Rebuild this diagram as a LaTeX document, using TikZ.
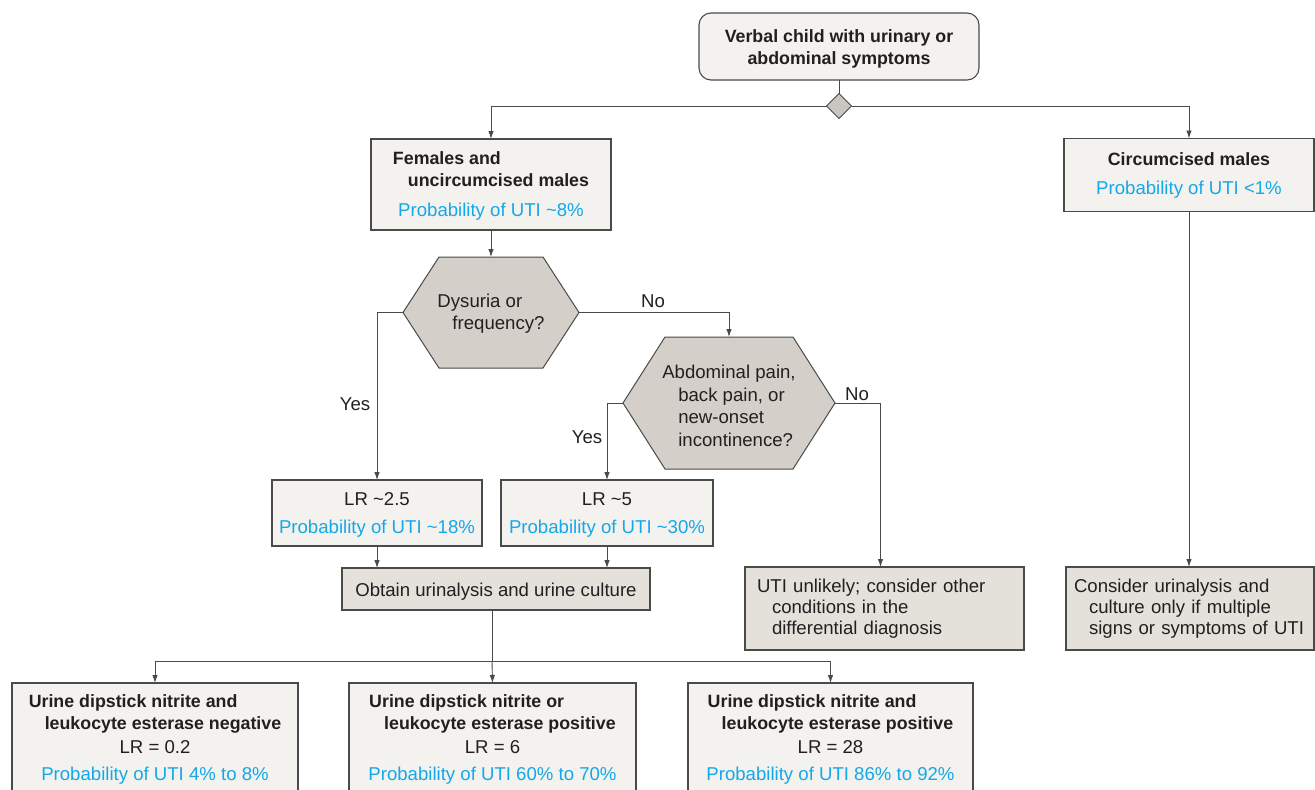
\documentclass[tikz,border=0pt]{standalone}
\usepackage{fontspec}
\setmainfont{Liberation Sans}
\usetikzlibrary{arrows.meta,shapes.geometric,backgrounds}
\definecolor{boxfill}{HTML}{F3F2EE}
\definecolor{darkfill}{HTML}{E4E0DA}
\definecolor{hexfill}{HTML}{D4D0C9}
\definecolor{dfill}{HTML}{C8C6C0}
\definecolor{edge}{HTML}{4A4A4A}
\definecolor{uti}{HTML}{14A8E9}
\definecolor{ink}{HTML}{231F20}
\newcommand\myfs{\fontsize{18.6}{22}\selectfont}
\newcommand\myhd{\fontsize{17.8}{22}\selectfont\bfseries}
\newcommand\myblu{\color{uti}}
\newcommand\mydown[2]{\raisebox{-#1}[\height][\depth]{#2}}
\tikzset{
  every node/.style={outer sep=0pt, text=ink, font=\myfs},
  lightbox/.style={draw=edge, line width=1.1pt, fill=boxfill, rectangle, align=center, inner sep=0pt},
  darkbox/.style={lightbox, fill=darkfill},
  hexnode/.style={rectangle, inner sep=0pt, align=center},
  hexshape/.style={draw=edge, line width=1pt, fill=hexfill},
  arr/.style={draw=edge, line width=0.9pt, -{Latex[length=8pt,width=5.5pt]}},
  con/.style={draw=edge, line width=0.9pt},
  lbl/.style={inner sep=0pt},
  txt/.style={inner sep=0pt, align=center},
}
\begin{document}
\begin{tikzpicture}[x=1pt,y=-1pt]
\useasboundingbox (0,0) rectangle (1315,790);
\clip (0,0) rectangle (1315,790);

% top
\node[lightbox, rounded corners=12pt, minimum width=280pt, minimum height=67pt, font=\myhd] (top) at (839,46.5)
  {\mydown{2.5pt}{\begin{tabular}{@{}c@{}}Verbal child with urinary or\\abdominal symptoms\end{tabular}}};
\node[shape=diamond, draw=edge, line width=0.9pt, fill=dfill, minimum width=25pt, minimum height=25pt, inner sep=0pt] (dia) at (839,106) {};

% second row
\node[lightbox, minimum width=240pt, minimum height=91pt] (fem) at (491,184.5)
  {\begin{tabular}[b]{@{}l@{}}\myhd Females and\\\hspace*{15pt}\myhd uncircumcised males\end{tabular}\\[8.5pt]{\myblu Probability of UTI \textasciitilde8\%}};
\node[lightbox, minimum width=250pt, minimum height=73pt] (circ) at (1189,175)
  {{\myhd Circumcised males}\\[7pt]{\myblu Probability of UTI \textless1\%}};

% hexagons
\node[hexnode, minimum width=176pt, minimum height=111pt] (dys) at (491,312.5)
  {\mydown{1.5pt}{\begin{tabular}{@{}l@{}}Dysuria or\\\hspace*{15pt}frequency?\end{tabular}}};
\node[hexnode, minimum width=212pt, minimum height=132pt] (abd) at (729,403)
  {\mydown{5pt}{\begin{tabular}{@{}l@{}}Abdominal pain,\\[0.8pt]\hspace*{16pt}back pain, or\\[0.8pt]\hspace*{16pt}new-onset\\[0.8pt]\hspace*{16pt}incontinence?\end{tabular}}};
\begin{scope}[on background layer]
\path[hexshape] (dys.west) -- ([xshift=36pt]dys.north west) -- ([xshift=-36pt]dys.north east) -- (dys.east)
  -- ([xshift=-36pt]dys.south east) -- ([xshift=36pt]dys.south west) -- cycle;
\path[hexshape] (abd.west) -- ([xshift=42pt]abd.north west) -- ([xshift=-42pt]abd.north east) -- (abd.east)
  -- ([xshift=-42pt]abd.south east) -- ([xshift=42pt]abd.south west) -- cycle;
\end{scope}

% LR boxes
\node[lightbox, minimum width=210pt, minimum height=66pt] (lr1) at (377,513)
  {\mydown{2pt}{\begin{tabular}{@{}c@{}}LR \textasciitilde2.5\\[6pt]{\myblu Probability of UTI \textasciitilde18\%}\end{tabular}}};
\node[lightbox, minimum width=212pt, minimum height=66pt] (lr2) at (607,513)
  {\mydown{2pt}{\begin{tabular}{@{}c@{}}LR \textasciitilde5\\[6pt]{\myblu Probability of UTI \textasciitilde30\%}\end{tabular}}};
\node[darkbox, minimum width=308pt, minimum height=42pt] (obt) at (496,589)
  {\mydown{2.5pt}{Obtain urinalysis and urine culture}};
\node[darkbox, align=left, text width=255pt, inner xsep=12pt, minimum height=83pt] (unl) at (884.5,608.5)
  {UTI unlikely; consider other\\[-1pt]\hspace*{15pt}conditions in the\\[-1pt]\hspace*{15pt}differential diagnosis};
\node[darkbox, align=left, text width=232pt, inner xsep=8pt, minimum height=83pt] (cons) at (1190,608.5)
  {Consider urinalysis and\\[-1pt]\hspace*{15pt}culture only if multiple\\[-1pt]\hspace*{15pt}signs or symptoms of UTI};

% bottom boxes
\node[lightbox, minimum width=286pt, minimum height=130pt, anchor=north] (b1) at (155,683) {};
\node[lightbox, minimum width=287pt, minimum height=130pt, anchor=north] (b2) at (492.5,683) {};
\node[lightbox, minimum width=285pt, minimum height=130pt, anchor=north] (b3) at (830.5,683) {};
\node[txt, anchor=north] (b1t) at ([yshift=-8.6pt]b1.north)
  {\begin{tabular}[b]{@{}l@{}}\myhd Urine dipstick nitrite and\\\hspace*{16pt}\myhd leukocyte esterase negative\end{tabular}\\[2pt]LR = 0.2\\[5pt]{\myblu Probability of UTI 4\% to 8\%}};
\node[txt, anchor=north] (b2t) at ([yshift=-8.6pt]b2.north)
  {\begin{tabular}[b]{@{}l@{}}\myhd Urine dipstick nitrite or\\\hspace*{15pt}\myhd leukocyte esterase positive\end{tabular}\\[2pt]LR = 6\\[5pt]{\myblu Probability of UTI 60\% to 70\%}};
\node[txt, anchor=north] (b3t) at ([yshift=-8.6pt]b3.north)
  {\begin{tabular}[b]{@{}l@{}}\myhd Urine dipstick nitrite and\\\hspace*{14pt}\myhd leukocyte esterase positive\end{tabular}\\[2pt]LR = 28\\[5pt]{\myblu Probability of UTI 86\% to 92\%}};

% labels
\node[lbl] (yes1) at (355,404) {Yes};
\node[lbl] (no1) at (653,301) {No};
\node[lbl] (yes2) at (587,437) {Yes};
\node[lbl] (no2) at (857,394) {No};

% connectors
\draw[con] (top.south) -- (dia.north);
\draw[arr] (dia.west) -| (fem.north);
\draw[arr] (dia.east) -| (circ.north);
\draw[arr] (fem.south) -- (dys.north);
\draw[arr] (dys.west) -| (lr1.north);
\draw[arr] (dys.east) -| (abd.north);
\draw[arr] (abd.west) -| (lr2.north);
\draw[arr] (abd.east) -| ([xshift=-4pt]unl.north);
\draw[arr] (circ.south) -- (circ.south |- cons.north);
\draw[arr] (lr1.south) -- (lr1.south |- obt.north);
\draw[arr] (lr2.south) -- (lr2.south |- obt.north);
\coordinate (split) at (492,661);
\draw[con] (obt.south -| split) -- (split);
\draw[arr] (split) -| (b1.north);
\draw[arr] (split) -| (b3.north);
\draw[arr] (split) -- (b2.north);
\end{tikzpicture}
\end{document}
